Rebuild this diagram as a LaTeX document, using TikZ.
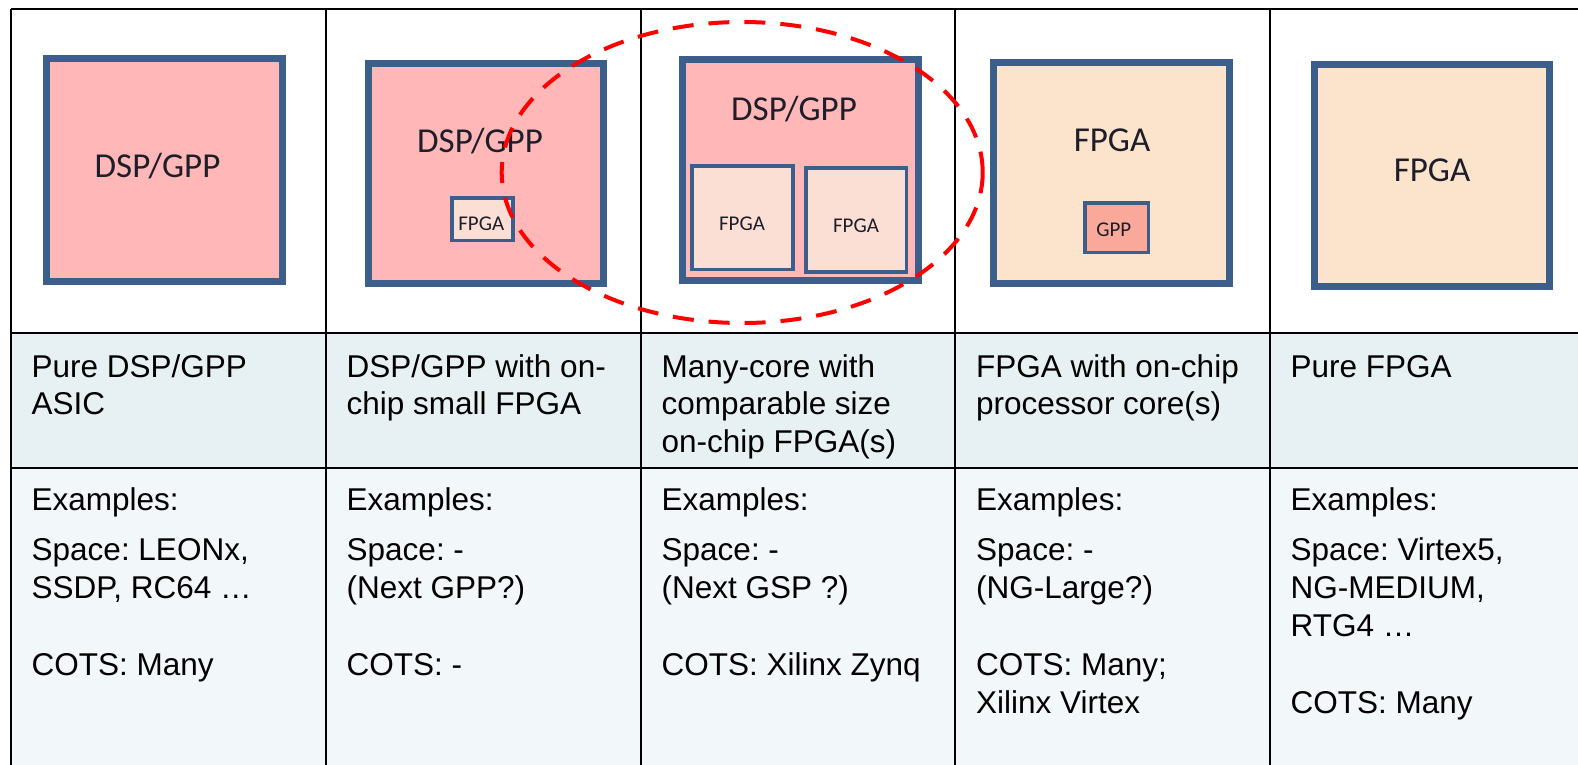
\documentclass[tikz,border=0pt]{standalone}
\usepackage{fontspec}
\setmainfont{Liberation Sans}
\newfontfamily\chipfont{Carlito}
\frenchspacing

\definecolor{chipedge}{HTML}{3B5E8B}
\definecolor{dspfill}{HTML}{FFB7B7}
\definecolor{fpgainner}{HTML}{FBDFD5}
\definecolor{fpgafill}{HTML}{FCE3CC}
\definecolor{gppfill}{HTML}{F9A899}
\definecolor{rowtwo}{HTML}{E7F1F4}
\definecolor{rowthree}{HTML}{F2F7FA}
\definecolor{chiptext}{HTML}{1E1E2A}

% multi-line nodes are anchored at the baseline of their last line
\tikzset{
  grid/.style={line width=2.5pt, black},
  chip/.style={draw=chipedge, line width=7pt, rectangle, inner sep=0pt},
  subchip/.style={draw=chipedge, line width=3.4pt, rectangle, inner sep=0pt},
  biglabel/.style={anchor=base, inner sep=0pt, text=chiptext, font=\chipfont\fontsize{35}{40}\selectfont},
  smalllabel/.style={anchor=base, inner sep=0pt, text=chiptext, font=\chipfont\fontsize{21}{24}\selectfont},
  headtext/.style={anchor=base west, inner sep=0pt, align=left, font=\fontsize{31.5}{37.5}\selectfont},
  bodytext/.style={anchor=base west, inner sep=0pt, align=left, font=\fontsize{31.5}{38.3}\selectfont},
  highlight/.style={draw=red, line width=4pt, dash pattern=on 21pt off 15pt},
}

\begin{document}
\begin{tikzpicture}[x=1pt, y=-1pt]
\useasboundingbox (0,0) rectangle (1578,764);
\clip (0,0) rectangle (1578,764);
\fill[white] (0,0) rectangle (1578,764);

% table backgrounds
\fill[rowtwo] (11,333) rectangle (1600,468);
\fill[rowthree] (11,468) rectangle (1600,780);

% table rules
\draw[grid] (11,9) -- (1600,9);
\draw[grid] (11,333) -- (1600,333);
\draw[grid] (11,468) -- (1600,468);
\foreach \cx in {11,326,641,955,1270} \draw[grid] (\cx,9) -- (\cx,780);

% column 1: pure DSP/GPP
\node[chip, fill=dspfill, minimum width=236pt, minimum height=223pt] (c1) at (164.5,170) {};
\node[biglabel] (c1t) at (157.5,177) {DSP/GPP};

% column 2: DSP/GPP with small FPGA
\node[chip, fill=dspfill, minimum width=235.3pt, minimum height=220.3pt] (c2) at (486.2,173.7) {};
\node[biglabel] (c2t) at (480,152) {DSP/GPP};
\node[subchip, fill=fpgainner, minimum width=61pt, minimum height=42.3pt] (c2f) at (482.5,219.2) {};
\node[smalllabel] (c2ft) at (481.3,230.7) {FPGA};

% column 3: many-core with FPGAs
\node[chip, fill=dspfill, minimum width=236.3pt, minimum height=221.3pt] (c3) at (800.7,170.2) {};
\node[biglabel] (c3t) at (794,120) {DSP/GPP};
\node[subchip, fill=fpgainner, minimum width=101pt, minimum height=103.7pt] (c3a) at (742.5,217.9) {};
\node[smalllabel] (c3at) at (742,230.7) {FPGA};
\node[subchip, fill=fpgainner, minimum width=100.3pt, minimum height=104pt] (c3b) at (856.2,220) {};
\node[smalllabel] (c3bt) at (856,232.7) {FPGA};

% column 4: FPGA with processor core
\node[chip, fill=fpgafill, minimum width=236.3pt, minimum height=220.7pt] (c4) at (1111.7,172.9) {};
\node[biglabel] (c4t) at (1112,151.7) {FPGA};
\node[subchip, fill=gppfill, minimum width=63.3pt, minimum height=49.6pt] (c4g) at (1116.7,227.8) {};
\node[smalllabel] (c4gt) at (1113.8,236) {GPP};

% column 5: pure FPGA
\node[chip, fill=fpgafill, minimum width=235pt, minimum height=222pt] (c5) at (1431.5,175.5) {};
\node[biglabel] (c5t) at (1432,181.7) {FPGA};

% dashed highlight
\draw[highlight] (742.2,172.5) ellipse [x radius=240.5pt, y radius=150.5pt];

% second row: descriptions
\node[headtext] (d1) at (31.5,414.5) {Pure DSP/GPP\\ASIC};
\node[headtext] (d2) at (346.5,414.5) {DSP/GPP with on-\\chip small FPGA};
\node[headtext] (d3) at (661.5,452) {Many-core with\\comparable size\\on-chip FPGA(s)};
\node[headtext] (d4) at (976,414.5) {FPGA with on-chip\\processor core(s)};
\node[headtext] (d5) at (1290.5,377) {Pure FPGA};

% third row: examples
\foreach \cx/\nm in {31.5/e1,346.5/e2,661.5/e3,976/e4,1290.5/e5}
  \node[bodytext] (\nm) at (\cx,510) {Examples:};
\node[bodytext] (s1) at (31.5,675) {Space: LEONx,\\SSDP, RC64 …\\[38.3pt]COTS: Many};
\node[bodytext] (s2) at (346.5,675) {Space: -\\(Next GPP?)\\[38.3pt]COTS: -};
\node[bodytext] (s3) at (661.5,675) {Space: -\\(Next GSP ?)\\[38.3pt]COTS: Xilinx Zynq};
\node[bodytext] (s4) at (976,713.3) {Space: -\\(NG-Large?)\\[38.3pt]COTS: Many;\\Xilinx Virtex};
\node[bodytext] (s5) at (1290.5,713.3) {Space: Virtex5,\\NG-MEDIUM,\\RTG4 …\\[38.3pt]COTS: Many};
\end{tikzpicture}
\end{document}
